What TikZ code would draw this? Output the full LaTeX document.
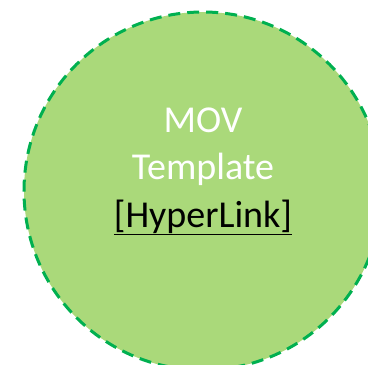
\documentclass[tikz,border=0pt]{standalone}
\usepackage{fontspec}
\setmainfont{Carlito}
\usepackage{tikz}

\definecolor{movfill}{RGB}{170,217,122}
\definecolor{movline}{RGB}{0,176,80}

\tikzset{
    movlabel/.style={anchor=base, inner sep=0pt, font=\fontsize{38pt}{47pt}\selectfont}
}

\begin{document}
\begin{tikzpicture}[x=1pt,y=1pt]
    \useasboundingbox (0,0) rectangle (368,-365);
    \node (movcircle) [circle, minimum size=358pt, inner sep=0pt, fill=movfill,
        draw=movline, line width=3pt, dash pattern=on 12pt off 7pt] at (203,-191) {};

    \node (movtitle) [movlabel, text=white] at (203,-132) {MOV};
    \node (movtemplate) [movlabel, text=white] at (203,-179) {Template};
    \node (movlink) [movlabel, text=black] at (203,-227) {\underline{[HyperLink]}};
  \end{tikzpicture}
\end{document}
